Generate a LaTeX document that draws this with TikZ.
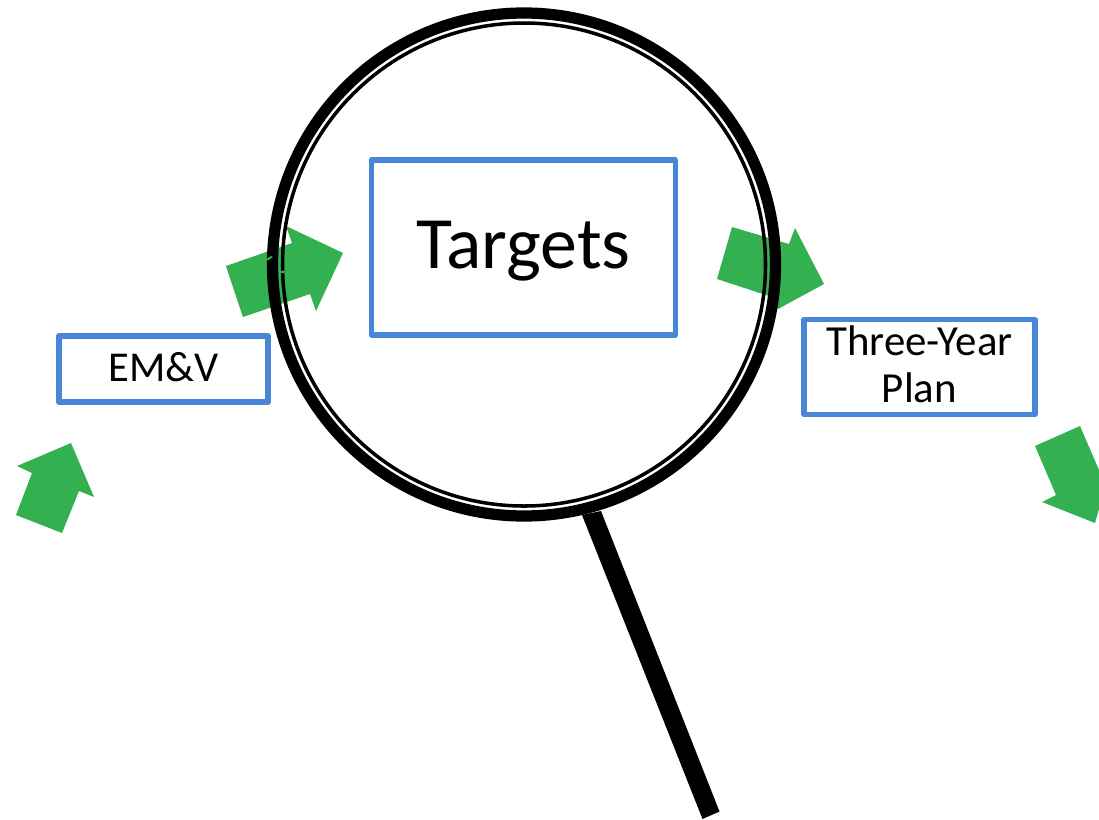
\documentclass[tikz,border=0pt]{standalone}
\usepackage{fontspec}
\setmainfont{Carlito}
\definecolor{boxblue}{HTML}{4A86D8}
\definecolor{arrowgreen}{HTML}{33B050}
\tikzset{
  stagebox/.style={draw=boxblue,line width=2.9pt,line join=round,align=center,inner sep=0pt},
  arrowshape/.style={fill=arrowgreen,draw=none},
}
\begin{document}
\begin{tikzpicture}[x=0.02cm,y=-0.02cm]
  \useasboundingbox (0,0) rectangle (1099,819);
  \node[stagebox,minimum width=6.08cm,minimum height=3.5cm,text height=31pt,text depth=7.6pt,font=\fontsize{42}{50}\selectfont] (targets) at (523.5,247.5) {Targets};
  \node[stagebox,minimum width=4.18cm,minimum height=1.32cm,text height=17pt,text depth=3pt,font=\fontsize{24.2}{29}\selectfont] (emv) at (163.5,369) {EM\&V};
  \node[stagebox,minimum width=4.62cm,minimum height=1.9cm,text depth=3pt,font=\fontsize{24.4}{26.5}\selectfont] (plan) at (919.5,367) {Three-Year\\Plan};
  % green arrows
  \fill[arrowshape] (226,266) -- (292,243) -- (286,226) -- (343,253) -- (316,311) -- (310,294) -- (243,317) -- cycle;
  \fill[arrowshape] (732,227) -- (789,244) -- (795,228) -- (824,284) -- (778,309) -- (772,297) -- (717,279) -- cycle;
  \fill[arrowshape] (71,443) -- (17,466) -- (32,473) -- (16,515) -- (62,533) -- (79,491) -- (94,497) -- cycle;
  \fill[arrowshape] (1035,446) -- (1080,426) -- (1099,470) -- (1099,509) -- (1095,523) -- (1042,502) -- (1056,495) -- cycle;
  % magnifying glass
  \begin{scope}[black]
    \draw[line width=6.4pt] (524,264.5) circle (251.5);
    \draw[line width=2pt] (524,264.5) circle (241.5);
    \fill (582,515) -- (601,511) -- (719.5,811.5) -- (702.5,819) -- cycle;
  \end{scope}
  % nick in the rim
  \fill[arrowshape] (266,259) -- (271,256) -- (273,257) -- (268,260.5) -- cycle;
  \fill[arrowshape] (280,271) -- (284,270.5) -- (284,273) -- (280,273) -- cycle;
\end{tikzpicture}
\end{document}
